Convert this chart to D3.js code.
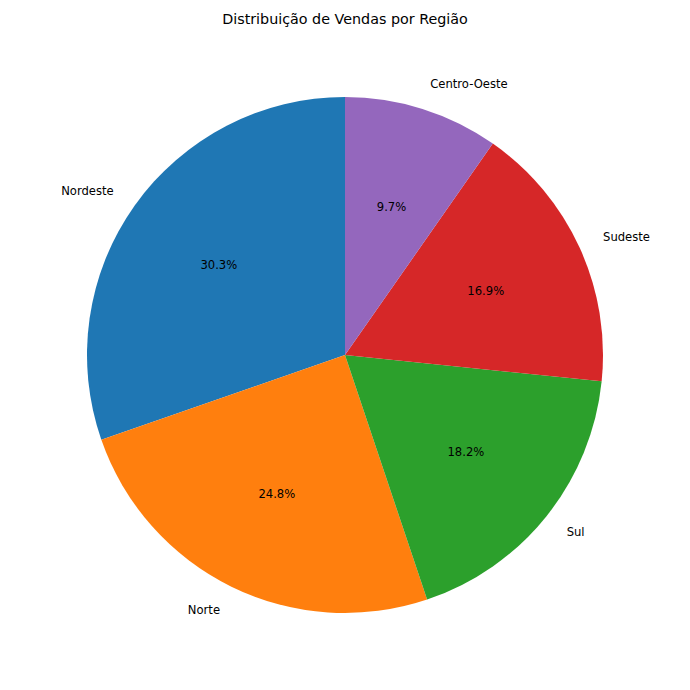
<!DOCTYPE html>
<html>
<head>
<meta charset="utf-8">
<script src="https://cdn.jsdelivr.net/npm/d3@7"></script>
<style>
  html, body { margin: 0; padding: 0; background: #fff; }
  svg text { font-family: "DejaVu Sans", sans-serif; }
</style>
</head>
<body>
<svg id="chart" width="690" height="690"></svg>
<script>
// ── Vendas por região — pie, start at top, counterclockwise ────────────────
const regions = ['Nordeste', 'Norte', 'Sul', 'Sudeste', 'Centro-Oeste'];
const shares  = [30.3, 24.8, 18.2, 16.9, 9.7];
const colors  = ['#1f77b4', '#ff7f0e', '#2ca02c', '#d62728', '#9467bd'];

const W = 690, H = 690;
const cx = 345, cy = 355, R = 258;

const svg = d3.select('#chart');

svg.append('text')
  .attr('x', W / 2).attr('y', 19)
  .attr('text-anchor', 'middle').attr('dominant-baseline', 'central')
  .attr('font-size', 14.3).attr('fill', '#000')
  .text('Distribuição de Vendas por Região');

const data = regions.map((r, i) => ({ region: r, value: shares[i], color: colors[i] }));
const total = d3.sum(shares);

// negative sweep = counterclockwise, like matplotlib's default
const pie = d3.pie().sort(null).value(d => d.value).startAngle(0).endAngle(-2 * Math.PI);
const arcs = pie(data);
const arc = d3.arc().innerRadius(0).outerRadius(R);

const g = svg.append('g').attr('transform', `translate(${cx},${cy})`);

g.selectAll('path.slice').data(arcs).join('path')
  .attr('class', 'slice')
  .attr('d', arc)
  .attr('fill', d => d.data.color);

// d3 angle a (clockwise from top) -> screen point
const pt = (a, r) => [r * Math.sin(a), -r * Math.cos(a)];

arcs.forEach(d => {
  const mid = (d.startAngle + d.endAngle) / 2;
  const [lx, ly] = pt(mid, R * 1.1);
  g.append('text')
    .attr('x', lx).attr('y', ly)
    .attr('text-anchor', lx > 0 ? 'start' : 'end')
    .attr('dominant-baseline', 'central')
    .attr('font-size', 11.6).attr('fill', '#000')
    .text(d.data.region);

  const [px, py] = pt(mid, R * 0.6);
  g.append('text')
    .attr('x', px).attr('y', py)
    .attr('text-anchor', 'middle')
    .attr('dominant-baseline', 'central')
    .attr('font-size', 11.6).attr('fill', '#000')
    .text((d.data.value / total * 100).toFixed(1) + '%');
});
</script>
</body>
</html>
